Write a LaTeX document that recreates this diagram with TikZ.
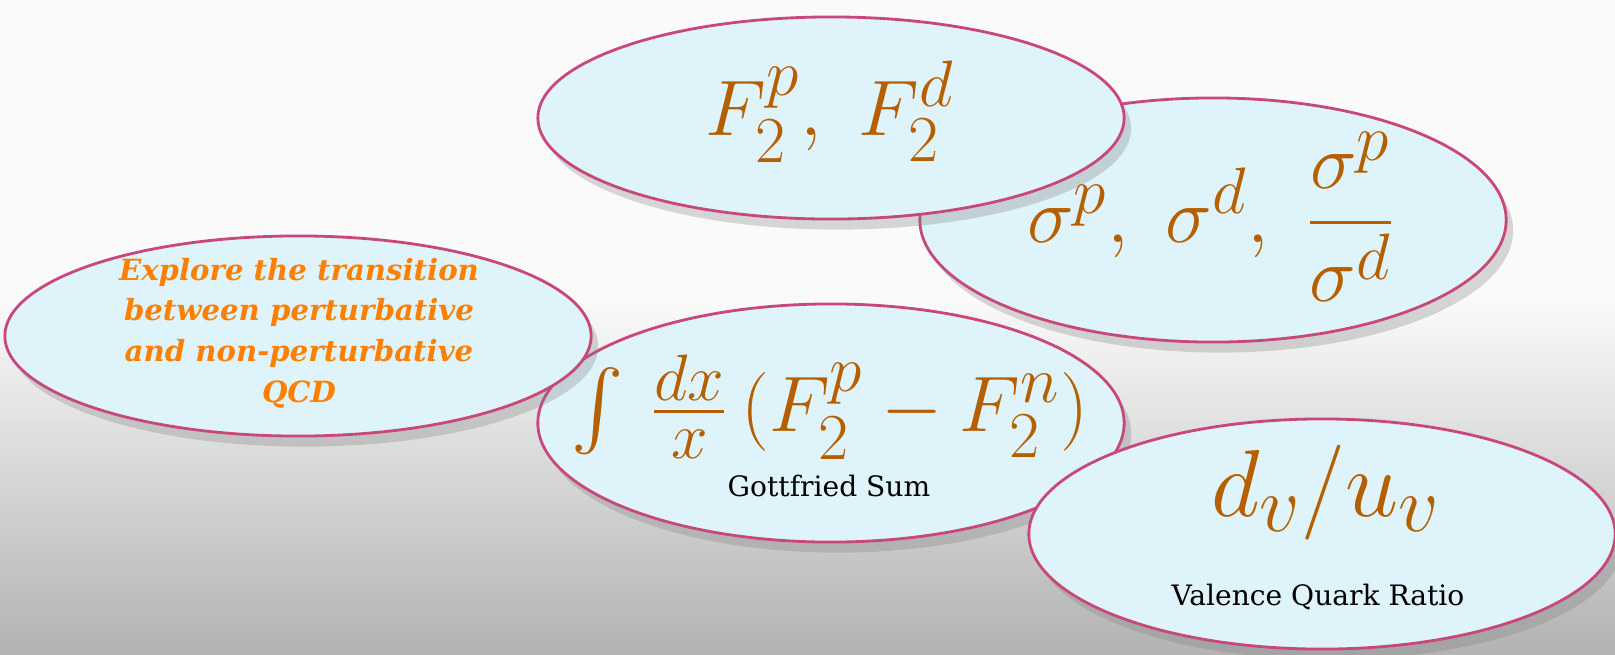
\documentclass[tikz,border=0pt]{standalone}
\usepackage{fontspec}
\usepackage{amsmath}
\usetikzlibrary{shapes.geometric,shadows}
\newfontfamily\slabfont{DejaVu Serif}
\definecolor{bubblefill}{HTML}{DFF3FA}
\definecolor{bubbleline}{HTML}{C8487A}
\definecolor{mathbrown}{HTML}{B65F00}
\definecolor{qcdorange}{HTML}{FF8000}
\tikzset{
  bubble/.style={ellipse,draw=bubbleline,fill=bubblefill,line width=0.8pt,
    inner sep=0pt,minimum width=5.86cm,
    drop shadow={shadow xshift=2pt,shadow yshift=-3pt,opacity=0.3}},
  bigmath/.style={text=mathbrown,font=\Huge,scale=0.9,inner sep=0pt},
  caption/.style={font=\slabfont\fontsize{8}{10}\selectfont},
}
\begin{document}
\begin{tikzpicture}[x=0.01cm,y=-0.01cm]
  \useasboundingbox (0,0) rectangle (1615,654);
  \fill[white!98!black] (0,0) rectangle (1615,300);
  \shade[top color=white!98!black,bottom color=black!30] (0,300) rectangle (1615,654);
  % bubbles, back to front
  \node[bubble,minimum height=2.38cm] (gott) at (831,423) {};
  \node[bubble,minimum height=2.00cm] (qcd) at (298,336) {};
  \node[bubble,minimum height=2.44cm] (sigma) at (1213,220) {};
  \node[bubble,minimum height=2.02cm] (ftwo) at (831,118) {};
  \node[bubble,minimum height=2.30cm] (ratio) at (1322,534) {};
  % texts
  \node[bigmath] (ftwotxt) at (830,112) {$F_2^p,\ F_2^d$};
  \node[bigmath] (sigmatxt) at (1211,217) {$\sigma^p,\ \sigma^d,\ \dfrac{\sigma^p}{\sigma^d}$};
  \node[bigmath] (gotttxt) at (830,407) {$\int\,\frac{dx}{x}\,(F_2^p-F_2^n)$};
  \node[caption] (gottlbl) at (829,486) {Gottfried Sum};
  \node[bigmath,scale=1.21] (ratiotxt) at (1326,493) {$d_v/u_v$};
  \node[caption] (ratiolbl) at (1318,597) {Valence Quark Ratio};
  \node[text=qcdorange,align=center,font=\slabfont\bfseries\itshape\fontsize{8.3}{11.6}\selectfont]
    (qcdtxt) at (299,333) {Explore the transition\\between perturbative\\and non-perturbative\\QCD};
\end{tikzpicture}
\end{document}
